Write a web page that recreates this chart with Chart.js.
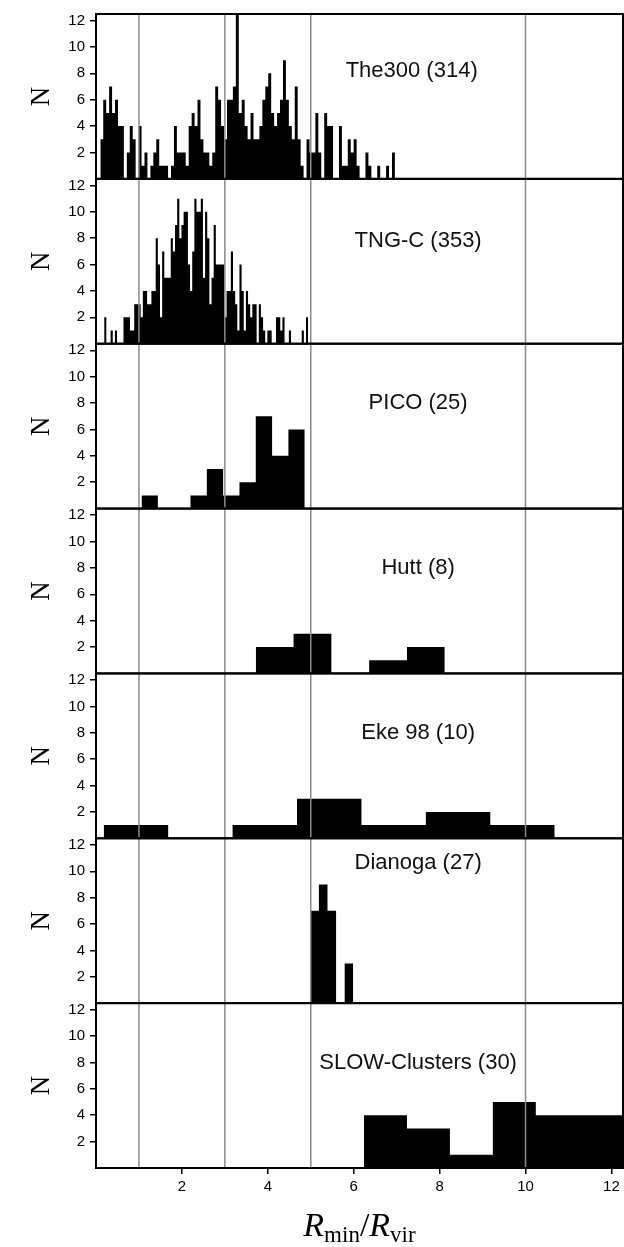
<!DOCTYPE html>
<html>
<head>
<meta charset="utf-8">
<script src="https://cdn.jsdelivr.net/npm/chart.js@4.4.0/dist/chart.umd.min.js"></script>
<style>
  html, body { margin: 0; padding: 0; background: #fff; }
  #wrap { position: relative; width: 624px; height: 1247px; }
</style>
</head>
<body>
<div id="wrap"><canvas id="chart" width="624" height="1247"></canvas></div>
<script>
// names printed in each panel, top to bottom
const panelNames = ['The300 (314)', 'TNG-C (353)', 'PICO (25)', 'Hutt (8)', 'Eke 98 (10)', 'Dianoga (27)', 'SLOW-Clusters (30)'];

// The300: equal bins
const the300Start = 0.10;
const the300Width = 0.0686;
const the300Counts = [3,6,5,7,5,6,4,4,0,2, 4,3,0,4,1,2,0,1,2,3, 1,1,1,0,1,4,2,2,2,1,
  4,5,4,6,3,2,2,1,2,7, 6,4,3,6,6,7,13,5,6,4, 3,5,3,3,4,6,7,8,5,4,
  5,6,9,6,4,3,7,3,1,0, 3,2,2,5,2,0,5,4,4,0, 0,4,1,1,3,2,3,1,0,0,
  2,1,0,0,1,0,0,1,0,2];

// TNG-C: equal bins
const tngStart = 0.19;
const tngWidth = 0.05;
const tngCounts = [2,0,0,1,0,1,0,0,0,2, 2,2,1,1,3,3,3,2,4,4, 3,3,4,4,8,6,2,7,5,5,
  5,8,7,9,11,8,9,10,10,6, 4,7,11,10,10,11,5,10,8,3, 5,9,6,6,6,6,2,4,4,7,
  4,3,1,6,4,1,4,3,2,3, 3,0,3,2,1,0,1,1,0,0, 2,2,1,2,0,0,1,0,0,0,
  0,0,1,0,2];

const picoEdges = [1.06, 1.44, 1.82, 2.20, 2.58, 2.96, 3.34, 3.72, 4.10, 4.48, 4.86];
const picoCounts = [1, 0, 0, 1, 3, 1, 2, 7, 4, 6];

const huttEdges = [3.72, 4.60, 5.48, 6.36, 7.24, 8.12];
const huttCounts = [2, 3, 0, 1, 2];

const ekeEdges = [0.18, 1.68, 3.18, 4.68, 6.18, 7.68, 9.18, 10.68];
const ekeCounts = [1, 0, 1, 3, 1, 2, 1];

const dianogaEdges = [4.99, 5.19, 5.39, 5.59, 5.79, 5.99];
const dianogaCounts = [7, 9, 7, 0, 3];

const slowEdges = [6.24, 7.24, 8.24, 9.24, 10.24, 11.24, 12.24, 13.24];
const slowCounts = [4, 3, 1, 5, 4, 4, 4];

const xTicks = [2, 4, 6, 8, 10, 12];
const yTicks = [2, 4, 6, 8, 10, 12];
const markerLines = [1, 3, 5, 10];

// where each panel name sits, in data units
const labelX = [7.35, 7.5, 7.5, 7.5, 7.5, 7.5, 7.5];
const labelY = [8.2, 7.8, 8, 8, 8, 10.6, 8];

function equalEdges(start, width, n) {
  const e = [];
  for (let i = 0; i <= n; i++) e.push(+(start + i * width).toFixed(4));
  return e;
}

const panels = [
  [equalEdges(the300Start, the300Width, the300Counts.length), the300Counts],
  [equalEdges(tngStart, tngWidth, tngCounts.length), tngCounts],
  [picoEdges, picoCounts],
  [huttEdges, huttCounts],
  [ekeEdges, ekeCounts],
  [dianogaEdges, dianogaCounts],
  [slowEdges, slowCounts]
];

const tickFont = {family: 'Liberation Sans', size: 15};

// each bin value is held from its left edge to the next edge
const datasets = panels.map(([edges, counts], k) => ({
  label: panelNames[k],
  yAxisID: 'y' + k,
  data: edges.map((e, i) => ({x: e, y: i < counts.length ? counts[i] : 0})),
  stepped: 'before',
  fill: 'origin',
  backgroundColor: '#000',
  borderColor: '#000',
  borderWidth: 0,
  pointRadius: 0
}));

const scales = {
  x: {
    type: 'linear',
    position: 'bottom',
    min: 0,
    max: 12.27,
    afterBuildTicks: s => { s.ticks = xTicks.map(v => ({value: v})); },
    afterFit: s => { s.height = 79; },
    grid: {drawOnChartArea: false, drawTicks: true, tickLength: 6, color: '#000', lineWidth: 1.5},
    border: {display: false},
    ticks: {color: '#000', font: tickFont, padding: 4, maxRotation: 0, autoSkip: false}
  }
};
panels.forEach((p, k) => {
  scales['y' + k] = {
    type: 'linear',
    position: 'left',
    stack: 'panels',
    stackWeight: 1,
    weight: panels.length - k,
    min: 0,
    max: 12.5,
    afterBuildTicks: s => { s.ticks = yTicks.map(v => ({value: v})); },
    afterFit: s => { s.width = 96; },
    grid: {drawOnChartArea: false, drawTicks: true, tickLength: 6, color: '#000', lineWidth: 1.5},
    border: {display: false},
    ticks: {color: '#000', font: tickFont, padding: 5, autoSkip: false},
    title: {
      display: true, text: 'N', color: '#000',
      font: {family: 'Liberation Serif', size: 27, lineHeight: 1},
      padding: {top: 28, bottom: 0}
    }
  };
});

const decor = {
  id: 'decor',
  afterDatasetsDraw(chart) {
    const ctx = chart.ctx;
    const a = chart.chartArea;
    const xs = chart.scales.x;
    ctx.save();
    // grey reference lines
    ctx.strokeStyle = '#8a8a8a';
    ctx.lineWidth = 1.5;
    markerLines.forEach(v => {
      const px = xs.getPixelForValue(v);
      ctx.beginPath();
      ctx.moveTo(px, a.top);
      ctx.lineTo(px, a.bottom);
      ctx.stroke();
    });
    // panel frames and names
    ctx.strokeStyle = '#000';
    ctx.lineWidth = 2;
    ctx.fillStyle = '#111';
    ctx.font = '22px "Liberation Sans"';
    ctx.textAlign = 'center';
    ctx.textBaseline = 'middle';
    panels.forEach((p, k) => {
      const ys = chart.scales['y' + k];
      ctx.strokeRect(a.left, ys.top, a.right - a.left, ys.bottom - ys.top);
      ctx.fillText(panelNames[k], xs.getPixelForValue(labelX[k]), ys.getPixelForValue(labelY[k]));
    });
    // x axis title  R_min / R_vir
    const big = 'italic 34px "Liberation Serif"';
    const up = '34px "Liberation Serif"';
    const sub = '23px "Liberation Serif"';
    const parts = [[big, 'R', 0], [sub, 'min', 6], [up, '/', 0], [big, 'R', 0], [sub, 'vir', 6]];
    let total = 0;
    parts.forEach(([f, t]) => { ctx.font = f; total += ctx.measureText(t).width; });
    let x = (a.left + a.right) / 2 - total / 2;
    const base = 1236;
    ctx.fillStyle = '#000';
    ctx.textAlign = 'left';
    ctx.textBaseline = 'alphabetic';
    parts.forEach(([f, t, dy]) => {
      ctx.font = f;
      ctx.fillText(t, x, base + dy);
      x += ctx.measureText(t).width;
    });
    ctx.restore();
  }
};

new Chart(document.getElementById('chart'), {
  type: 'line',
  data: {datasets},
  options: {
    responsive: false,
    animation: false,
    layout: {padding: {top: 13, right: 1, left: 0, bottom: 0}},
    plugins: {legend: {display: false}, tooltip: {enabled: false}},
    scales
  },
  plugins: [decor]
});
</script>
</body>
</html>
